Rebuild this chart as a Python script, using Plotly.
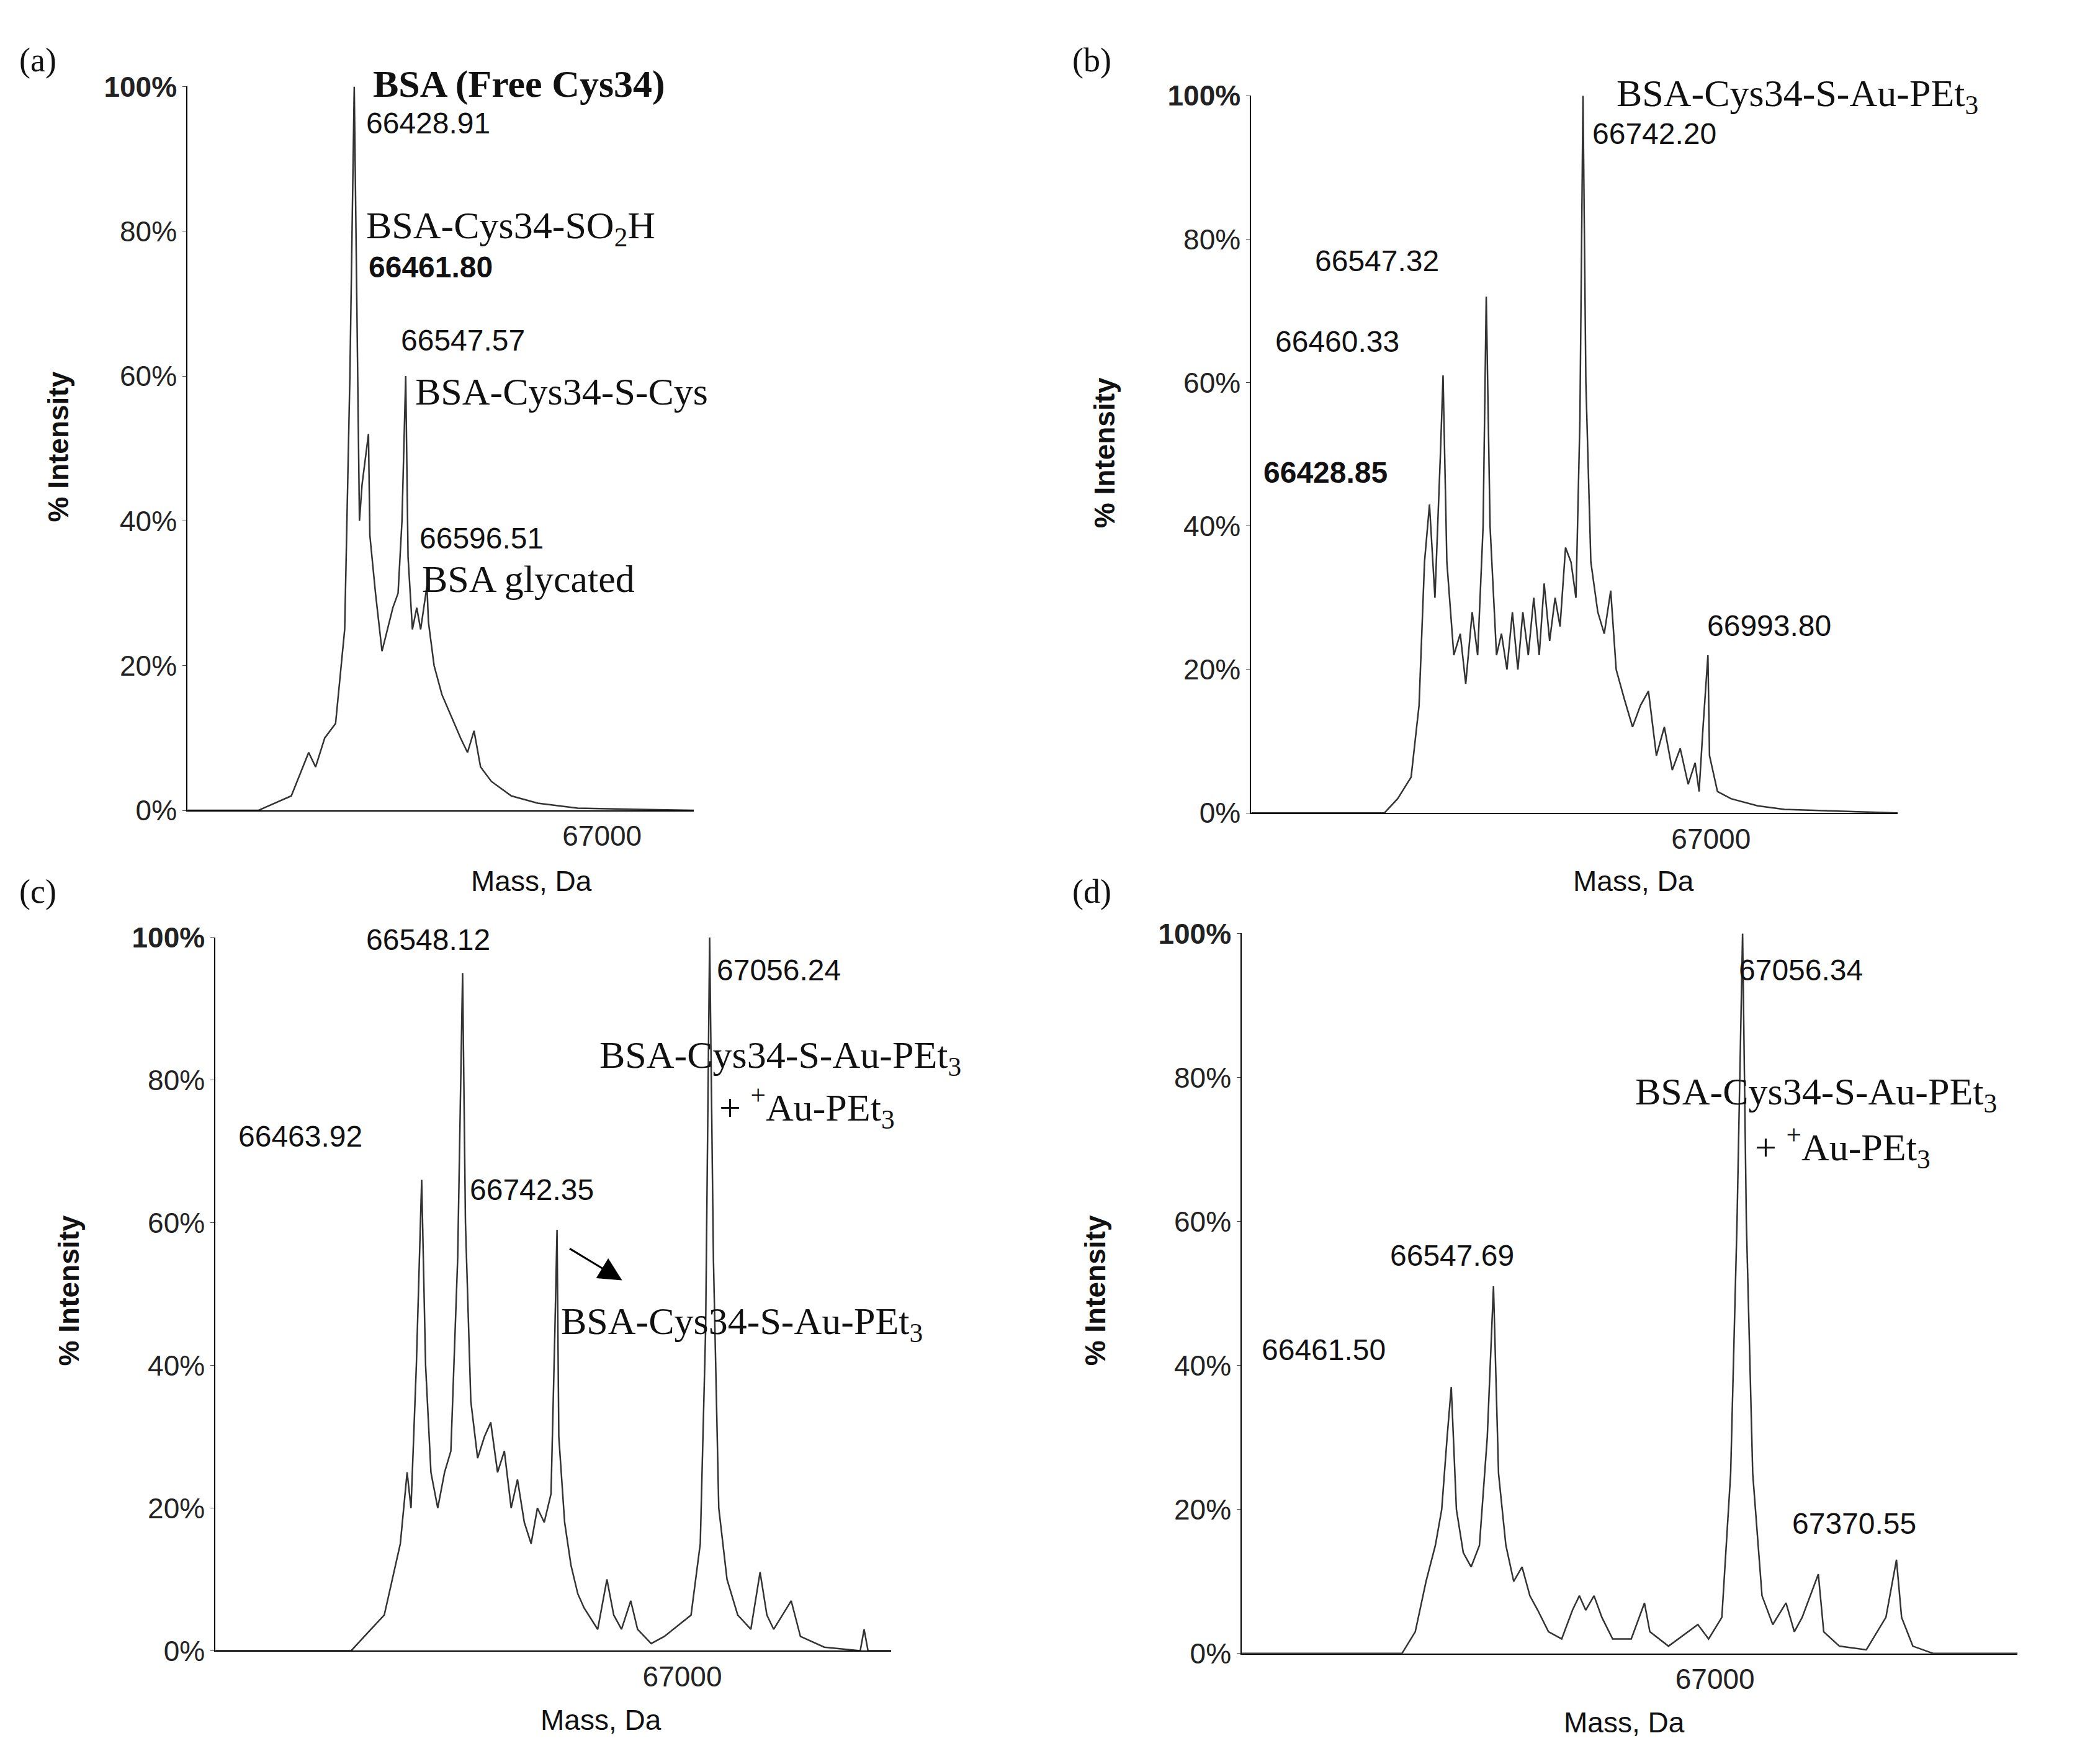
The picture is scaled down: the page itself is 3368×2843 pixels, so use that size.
import plotly.graph_objects as go

mass_a = [66045,66208,66284,66324,66340,66361,66386,66407,66419,66429,66435,66441,66447,66461.8,66465,66478,66493,66505,66518,66530,66539,66547.57,66553,66563,66573,66582,66596.51,66600,66613,66631,66653,66674,66690,66705,66720,66745,66791,66852,66944,67212]
int_a  = [0,0,2,8,6,10,12,25,60,100,70,40,45,52,38,30,22,25,28,30,40,60,35,25,28,25,31,26,20,16,13,10,8,11,6,4,2,1,0.3,0]
mass_b = [66074,66342,66369,66396,66412,66423,66433,66444,66455,66460.33,66468,66482,66495,66506,66519,66530,66541,66547.32,66555,66568,66578,66589,66600,66611,66621,66632,66643,66654,66664,66675,66686,66696,66707,66718,66728,66736,66742.2,66748,66758,66772,66785,66798,66809,66825,66842,66858,66874,66890,66906,66922,66938,66954,66968,66976,66984,66993.8,66997,67013,67040,67094,67148,67376]
int_b  = [0,0,2,5,15,35,43,30,50,61,35,22,25,18,28,22,40,72,40,22,25,20,28,20,28,22,30,22,32,24,30,26,37,35,30,55,100,60,35,28,25,31,20,16,12,15,17,8,12,6,9,4,7,3,12,22,8,3,2,1,0.5,0]
mass_c = [66040,66319,66346,66387,66420,66434,66442,66453,66463.92,66472,66483,66497,66511,66524,66538,66548.12,66554,66565,66579,66593,66606,66620,66634,66648,66661,66675,66689,66702,66716,66730,66738,66742.35,66746,66758,66771,66785,66798,66826,66845,66859,66875,66894,66908,66936,66963,67018,67037,67048,67056.24,67064,67075,67092,67114,67141,67160,67174,67188,67224,67243,67292,67366,67374,67382,67430]
int_c  = [0,0,2,5,15,25,20,40,66,40,25,20,25,28,55,95,60,35,27,30,32,25,28,20,24,18,15,20,18,22,45,59,30,18,12,8,6,3,10,5,3,7,3,1,2,5,15,45,100,55,20,10,5,3,11,5,3,7,2,0.5,0,3,0,0]
mass_d = [66034,66361,66388,66410,66429,66442,66453,66461.5,66472,66486,66502,66519,66535,66547.69,66558,66573,66589,66606,66622,66638,66660,66687,66709,66723,66736,66753,66769,66791,66829,66856,66867,66905,66965,66987,67014,67032,67045,67056.34,67064,67077,67096,67118,67145,67162,67178,67211,67222,67254,67309,67349,67370.55,67381,67404,67445,67618]
int_d  = [0,0,3,10,15,20,30,37,20,14,12,15,30,51,25,15,10,12,8,6,3,2,6,8,6,8,5,2,2,7,3,1,4,2,5,25,60,100,60,25,8,4,7,3,5,11,3,1,0.5,5,13,5,1,0,0]

y_ticks = [0, 20, 40, 60, 80, 100]
y_labels = ["0%", "20%", "40%", "60%", "80%", "<b>100%</b>"]

W, H = 1568, 1323
def px(x): return x / W
def py(y): return 1 - y / H

panels = [
    (mass_a, int_a, [66045, 67212], (137, 517), (603, 50)),
    (mass_b, int_b, [66074, 67376], (935, 1420), (605, 57)),
    (mass_c, int_c, [66040, 67430], (158, 665), (1245, 700)),
    (mass_d, int_d, [66034, 67618], (928, 1510), (1247, 697)),
]

fig = go.Figure()
SANS = "Liberation Sans"
SERIF = "Liberation Serif"
layout = dict(width=3368, height=2843, margin=dict(l=0, r=0, t=0, b=0),
              plot_bgcolor="white", paper_bgcolor="white", showlegend=False)
for i, (m, v, xr, (x0, x1), (y0, y1)) in enumerate(panels):
    n = "" if i == 0 else str(i + 1)
    fig.add_trace(go.Scatter(x=m, y=v, mode="lines", line=dict(color="#333333", width=2.5),
                             xaxis="x" + n, yaxis="y" + n, hoverinfo="skip"))
    layout["xaxis" + n] = dict(domain=[px(x0), px(x1)], range=xr, anchor="y" + n,
                               showline=True, linecolor="black", linewidth=2, showgrid=False,
                               zeroline=False, tickvals=[67000], ticktext=["67000"],
                               ticks="", tickfont=dict(family=SANS, size=46, color="#222"))
    layout["yaxis" + n] = dict(domain=[py(y0), py(y1)], range=[0, 100], anchor="x" + n,
                               showline=True, linecolor="black", linewidth=2, showgrid=False,
                               zeroline=False, tickvals=y_ticks, ticktext=y_labels,
                               ticks="outside", ticklen=6, tickfont=dict(family=SANS, size=46, color="#222"))
fig.update_layout(**layout)

def lab(text, x, y, font=SANS, size=48, anchor="left", angle=0):
    fig.add_annotation(text=text, x=px(x), y=py(y), xref="paper", yref="paper",
                       showarrow=False, xanchor=anchor, yanchor="middle", textangle=angle,
                       font=dict(family=font, size=size, color="#111"))

# panel letters
for t, x, y in [("(a)", 10, 30), ("(b)", 800, 30), ("(c)", 10, 665), ("(d)", 800, 665)]:
    lab(t, x, y, SERIF, 54)
# axis titles
for x, y in [(40, 325), (825, 330), (48, 970), (818, 970)]:
    lab("<b>% Intensity</b>", x, y, SANS, 46, "center", -90)
for x, y in [(395, 657), (1222, 657), (447, 1298), (1215, 1300)]:
    lab("Mass, Da", x, y, SANS, 46, "center")

AU = "BSA-Cys34-S-Au-PEt<sub>3</sub>"
AU2 = "+ <sup>+</sup>Au-PEt<sub>3</sub>"
# (a)
lab("<b>BSA (Free Cys34)</b>", 275, 48, SERIF, 62)
lab("66428.91", 270, 78)
lab("BSA-Cys34-SO<sub>2</sub>H", 270, 158, SERIF, 62)
lab("<b>66461.80</b>", 272, 188)
lab("66547.57", 296, 244)
lab("BSA-Cys34-S-Cys", 307, 283, SERIF, 62)
lab("66596.51", 310, 395)
lab("BSA glycated", 312, 426, SERIF, 62)
# (b)
lab(AU, 1208, 57, SERIF, 62)
lab("66742.20", 1190, 86)
lab("66547.32", 982, 183)
lab("66460.33", 952, 245)
lab("<b>66428.85</b>", 943, 345)
lab("66993.80", 1276, 462)
# (c)
lab("66548.12", 270, 702)
lab("66463.92", 174, 852)
lab("66742.35", 348, 893)
lab("67056.24", 533, 725)
lab(AU, 445, 792, SERIF, 62)
lab(AU2, 535, 830, SERIF, 62)
lab(AU, 416, 995, SERIF, 62)
fig.add_annotation(x=px(463), y=py(962), ax=-86, ay=-52, xref="paper", yref="paper",
                   showarrow=True, arrowhead=2, arrowsize=2.5,
                   arrowwidth=3, arrowcolor="black", text="")
# (d)
lab("67056.34", 1300, 725)
lab(AU, 1222, 820, SERIF, 62)
lab(AU2, 1312, 860, SERIF, 62)
lab("66547.69", 1038, 943)
lab("66461.50", 942, 1015)
lab("67370.55", 1340, 1148)

fig.write_html("out.html")
